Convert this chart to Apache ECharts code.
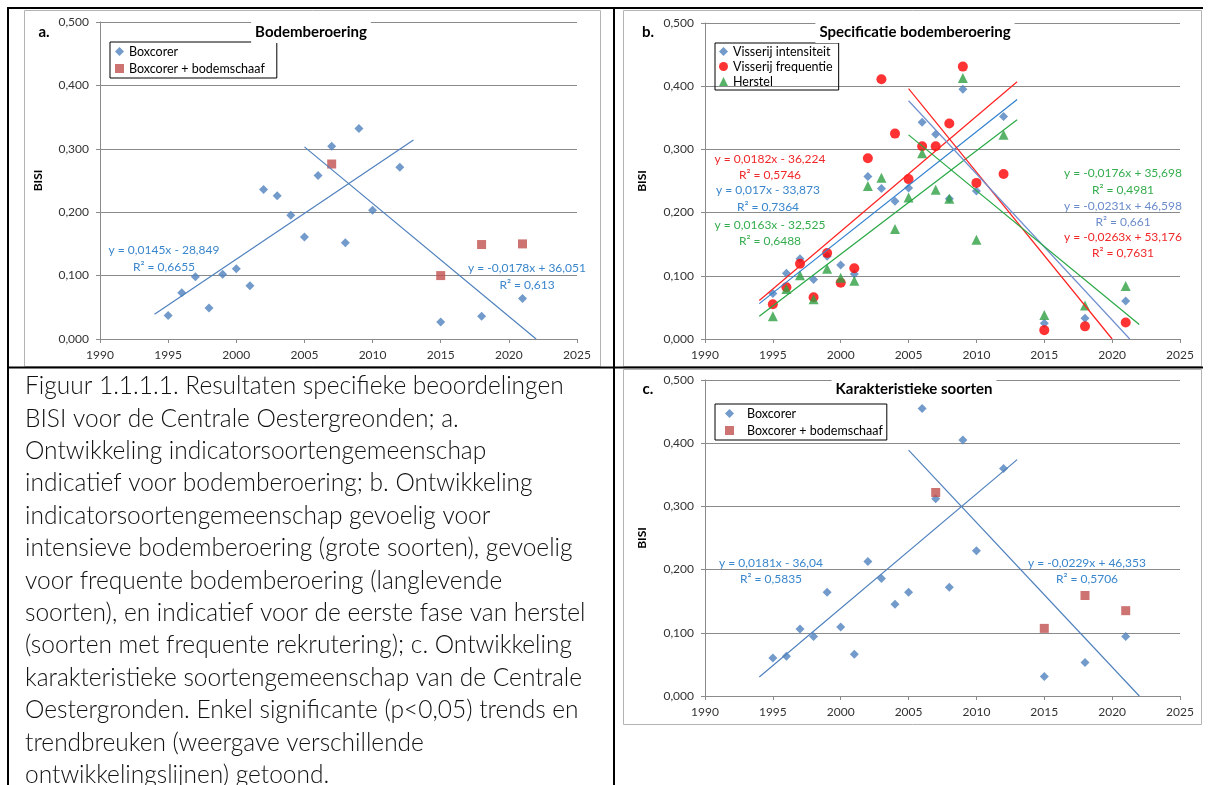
<!DOCTYPE html>
<html>
<head>
<meta charset="utf-8">
<script src="https://cdn.jsdelivr.net/npm/echarts@6/dist/echarts.min.js"></script>
<style>
html,body{margin:0;padding:0;background:#fff;}
#chart{width:1214px;height:785px;}
</style>
</head>
<body>
<div id="chart"></div>
<script>
// ---------- DATA ----------
const years = [1995,1996,1997,1998,1999,2000,2001,2002,2003,2004,2005,2006,2007,2008,2009,2010,2012,2015,2018,2021];
const schaafYears = [2007,2015,2018,2021];
const xTicks = [1990,1995,2000,2005,2010,2015,2020,2025];

// panel a: Bodemberoering
const aBoxcorer = [0.037,0.073,0.098,0.049,0.102,0.111,0.084,0.236,0.226,0.195,0.161,0.258,0.304,0.152,0.332,0.203,0.271,0.027,0.036,0.064];
const aSchaaf = [0.276,0.100,0.149,0.150];
const aTrendUpX = [1994,2013], aTrendUpY = [0.039,0.314];
const aTrendDownX = [2005,2022], aTrendDownY = [0.303,0.000];

// panel b: Specificatie bodemberoering
const bIntensiteit = [0.072,0.104,0.127,0.094,0.131,0.117,0.103,0.257,0.238,0.218,0.239,0.343,0.324,0.222,0.395,0.234,0.352,0.025,0.033,0.060];
const bFrequentie  = [0.055,0.082,0.119,0.066,0.136,0.089,0.112,0.286,0.411,0.325,0.253,0.305,0.305,0.341,0.431,0.247,0.261,0.014,0.020,0.026];
const bHerstel     = [0.036,0.079,0.101,0.063,0.111,0.097,0.092,0.242,0.255,0.174,0.224,0.294,0.236,0.222,0.413,0.157,0.323,0.038,0.053,0.084];
const bUpX = [1994,2013];
const bRedUpY = [0.061,0.407], bBlueUpY = [0.056,0.379], bGreenUpY = [0.036,0.347];
const bRedDownX = [2005,2020], bRedDownY = [0.396,0.000];
const bBlueDownX = [2005,2021.3], bBlueDownY = [0.377,0.000];
const bGreenDownX = [2005,2022], bGreenDownY = [0.323,0.023];

// panel c: Karakteristieke soorten
const cBoxcorer = [0.060,0.063,0.106,0.094,0.164,0.109,0.066,0.213,0.186,0.145,0.164,0.455,0.312,0.172,0.405,0.230,0.360,0.031,0.053,0.094];
const cSchaaf = [0.322,0.107,0.159,0.135];
const cTrendUpX = [1994,2013], cTrendUpY = [0.030,0.374];
const cTrendDownX = [2005,2022], cTrendDownY = [0.389,0.000];

const captionLines = [
 "Figuur 1.1.1.1. Resultaten specifieke beoordelingen",
 "BISI voor de Centrale Oestergreonden; a.",
 "Ontwikkeling indicatorsoortengemeenschap",
 "indicatief voor bodemberoering; b. Ontwikkeling",
 "indicatorsoortengemeenschap gevoelig voor",
 "intensieve bodemberoering (grote soorten), gevoelig",
 "voor frequente bodemberoering (langlevende",
 "soorten), en indicatief voor de eerste fase van herstel",
 "(soorten met frequente rekrutering); c. Ontwikkeling",
 "karakteristieke soortengemeenschap van de Centrale",
 "Oestergronden. Enkel significante (p<0,05) trends en",
 "trendbreuken (weergave verschillende",
 "ontwikkelingslijnen) getoond."
];

// ---------- STYLE ----------
const FONT = 'Lato, "Noto Sans", sans-serif';
const C_BLUE = '#4f81bd', C_RED = '#c0504d';
const C_BRED = '#ff0000', C_BGREEN = '#2ea043';
const GRID_C = '#8a8a8a';
const pair = (xs, ys) => xs.map((x, i) => [x, ys[i]]);

function xAx(gi){
  return {type:'value', gridIndex:gi, min:xTicks[0], max:xTicks[xTicks.length-1], interval:5,
    axisLine:{show:true, onZero:false, lineStyle:{color:GRID_C, width:1}},
    axisTick:{show:true, length:4, lineStyle:{color:GRID_C}},
    axisLabel:{fontFamily:FONT, fontSize:12, color:'#333', margin:10, formatter:v => String(v)},
    splitLine:{show:false}};
}
function yAx(gi, gap){
  return {type:'value', gridIndex:gi, min:0, max:0.5, interval:0.1,
    name:'BISI', nameLocation:'middle', nameGap:gap, nameRotate:90,
    nameTextStyle:{fontFamily:FONT, fontSize:12, fontWeight:'bold', color:'#000'},
    axisLine:{show:true, lineStyle:{color:GRID_C, width:1}},
    axisTick:{show:true, length:4, lineStyle:{color:GRID_C}},
    axisLabel:{fontFamily:FONT, fontSize:12, color:'#333', margin:11,
      formatter:v => v.toFixed(3).replace('.', ',')},
    splitLine:{show:true, lineStyle:{color:GRID_C, width:1}}};
}
function scatter(name, gi, xs, ys, symbol, size, color){
  return {type:'scatter', name, xAxisIndex:gi, yAxisIndex:gi, data:pair(xs, ys),
    symbol, symbolSize:size, itemStyle:{color}, z:3, silent:true};
}
function trend(gi, xs, ys, color){
  return {type:'line', xAxisIndex:gi, yAxisIndex:gi, data:pair(xs, ys),
    showSymbol:false, symbol:'none', silent:true, z:4,
    lineStyle:{color, width:1.2}};
}
function txt(x, y, text, color, opts){
  return Object.assign({type:'text', x, y, z:50, silent:true,
    style:Object.assign({text, fill:color, font:'12px '+FONT, align:'center', verticalAlign:'middle'}, opts||{})});
}
function line(x1,y1,x2,y2,color,w){
  return {type:'line', z:60, silent:true, shape:{x1,y1,x2,y2}, style:{stroke:color, lineWidth:w}};
}
function frame(x,y,w,h){
  return {type:'rect', z:1, silent:true, shape:{x,y,width:w,height:h}, style:{fill:'none', stroke:'#b4b4b4', lineWidth:1}};
}
function title(x,y,text){
  return {type:'text', x, y, z:50, silent:true,
    style:{text, font:'bold 15px '+FONT, fill:'#000', align:'center', verticalAlign:'middle',
      backgroundColor:'#fff', padding:[6,4,1,4]}};
}

const BLUE_TXT = '#3a86cc', RED_TXT = '#f0282a', GREEN_TXT = '#35ad4f', SBLUE_TXT = '#6b8ccb';

const option = {
  backgroundColor:'#fff',
  animation:false,
  grid:[
    {left:100, top:22, width:477, height:317},
    {left:705, top:23, width:475, height:316},
    {left:705, top:380, width:475, height:316}
  ],
  xAxis:[xAx(0), xAx(1), xAx(2)],
  yAxis:[yAx(0,56), yAx(1,57), yAx(2,57)],
  legend:[
    {left:110, top:42, orient:'vertical', data:['Boxcorer','Boxcorer + bodemschaaf'],
     borderColor:'#000', borderWidth:1, padding:[3,12,3,5], itemGap:4, itemWidth:9, itemHeight:9,
     selectedMode:false, textStyle:{fontFamily:FONT, fontSize:12.5, color:'#000'}},
    {left:715, top:43, orient:'vertical', data:['Visserij intensiteit','Visserij frequentie','Herstel'],
     borderColor:'#000', borderWidth:1, padding:[2,6,2,4], itemGap:2, itemWidth:9, itemHeight:9,
     selectedMode:false, textStyle:{fontFamily:FONT, fontSize:12.5, color:'#000'}},
    {left:715, top:404, orient:'vertical', data:['Boxcorer','Boxcorer + bodemschaaf'],
     borderColor:'#000', borderWidth:1, padding:[3,4,3,10], itemGap:4, itemWidth:9, itemHeight:9,
     selectedMode:false, textStyle:{fontFamily:FONT, fontSize:12.5, color:'#000', padding:[0,0,0,8]}}
  ],
  series:[
    scatter('Boxcorer', 0, years, aBoxcorer, 'diamond', 9, C_BLUE),
    scatter('Boxcorer + bodemschaaf', 0, schaafYears, aSchaaf, 'rect', 9, C_RED),
    trend(0, aTrendUpX, aTrendUpY, C_BLUE),
    trend(0, aTrendDownX, aTrendDownY, C_BLUE),

    scatter('Visserij intensiteit', 1, years, bIntensiteit, 'diamond', 9, C_BLUE),
    scatter('Visserij frequentie', 1, years, bFrequentie, 'circle', 10, C_BRED),
    scatter('Herstel', 1, years, bHerstel, 'triangle', 10, C_BGREEN),
    trend(1, bUpX, bRedUpY, '#ff2020'),
    trend(1, bUpX, bBlueUpY, '#2f7fcf'),
    trend(1, bUpX, bGreenUpY, '#27a844'),
    trend(1, bRedDownX, bRedDownY, '#ff2020'),
    trend(1, bBlueDownX, bBlueDownY, '#6f8fcf'),
    trend(1, bGreenDownX, bGreenDownY, '#27a844'),

    scatter('Boxcorer', 2, years, cBoxcorer, 'diamond', 9, C_BLUE),
    scatter('Boxcorer + bodemschaaf', 2, schaafYears, cSchaaf, 'rect', 9, C_RED),
    trend(2, cTrendUpX, cTrendUpY, C_BLUE),
    trend(2, cTrendDownX, cTrendDownY, C_BLUE)
  ],
  graphic:{elements:[
    // chart frames
    frame(24.5, 10.5, 576, 356),
    frame(623.5, 10.5, 578, 356),
    frame(623.5, 369.5, 578, 355),
    // table borders
    line(8, 8, 1203, 8, '#000', 2),
    line(8, 7, 8, 785, '#000', 2),
    line(8, 367.5, 1203, 367.5, '#000', 2),
    line(614, 7, 614, 785, '#000', 2),
    // panel letters
    txt(44, 32, 'a.', '#000', {font:'bold 15px '+FONT}),
    txt(648, 32, 'b.', '#000', {font:'bold 15px '+FONT}),
    txt(648, 389, 'c.', '#000', {font:'bold 15px '+FONT}),
    // titles
    title(311, 32, 'Bodemberoering'),
    title(915, 32, 'Specificatie bodemberoering'),
    title(914, 389, 'Karakteristieke soorten'),
    // equations panel a
    txt(164, 250, 'y = 0,0145x - 28,849', BLUE_TXT),
    txt(164, 267, 'R² = 0,6655', BLUE_TXT),
    txt(527, 268, 'y = -0,0178x + 36,051', BLUE_TXT),
    txt(527, 285, 'R² = 0,613', BLUE_TXT),
    // equations panel b
    txt(770, 159, 'y = 0,0182x - 36,224', RED_TXT),
    txt(770, 175, 'R² = 0,5746', RED_TXT),
    txt(768, 190, 'y = 0,017x - 33,873', BLUE_TXT),
    txt(768, 207, 'R² = 0,7364', BLUE_TXT),
    txt(770, 225, 'y = 0,0163x - 32,525', GREEN_TXT),
    txt(770, 241, 'R² = 0,6488', GREEN_TXT),
    txt(1123, 173, 'y = -0,0176x + 35,698', GREEN_TXT),
    txt(1123, 190, 'R² = 0,4981', GREEN_TXT),
    txt(1123, 206, 'y = -0,0231x + 46,598', SBLUE_TXT),
    txt(1123, 222, 'R² = 0,661', SBLUE_TXT),
    txt(1123, 237, 'y = -0,0263x + 53,176', RED_TXT),
    txt(1123, 253, 'R² = 0,7631', RED_TXT),
    // equations panel c
    txt(771, 563, 'y = 0,0181x - 36,04', BLUE_TXT),
    txt(771, 579, 'R² = 0,5835', BLUE_TXT),
    txt(1087, 563, 'y = -0,0229x + 46,353', BLUE_TXT),
    txt(1087, 579, 'R² = 0,5706', BLUE_TXT),
    // caption
    {type:'text', x:25, y:370, z:50, silent:true,
     style:{text:captionLines.join('\n'), font:'300 24.5px '+FONT, lineHeight:32.4, fill:'#111',
       align:'left', verticalAlign:'top'}}
  ]}
};

const chart = echarts.init(document.getElementById('chart'), null, {renderer:'canvas'});
chart.setOption(option);
</script>
</body>
</html>
